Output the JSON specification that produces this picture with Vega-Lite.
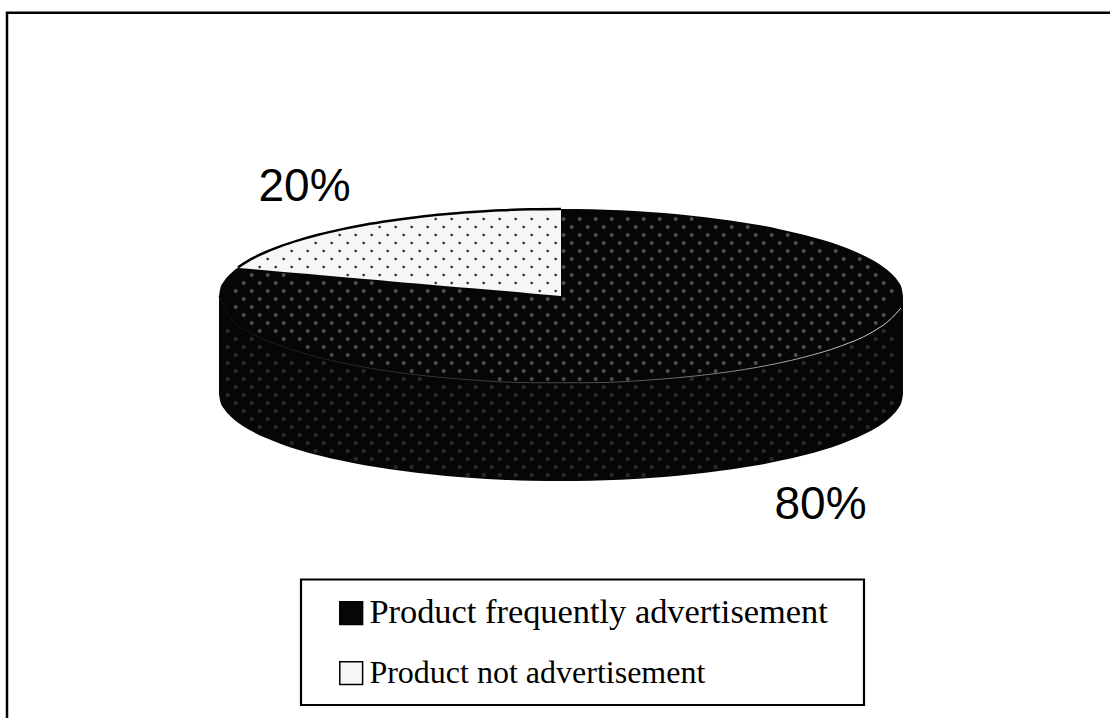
{
  "$schema": "https://vega.github.io/schema/vega-lite/v6.json",
  "width": 1110,
  "height": 718,
  "autosize": {"type": "fit", "contains": "padding"},
  "padding": 0,
  "background": "white",
  "view": {"stroke": null},
  "datasets": {
    "slices": [
      {"segment": "Product frequently advertisement", "share": 80, "label": "80%", "x": 774.5, "y": 518.5},
      {"segment": "Product not advertisement", "share": 20, "label": "20%", "x": 258.5, "y": 201}
    ],
    "body": [
      {"segment": "Product frequently advertisement", "x": 219, "y": 296, "y2": 394},
      {"segment": "Product frequently advertisement", "x": 220.3, "y": 288.4, "y2": 401.6},
      {"segment": "Product frequently advertisement", "x": 224.2, "y": 280.9, "y2": 409.1},
      {"segment": "Product frequently advertisement", "x": 230.7, "y": 273.5, "y2": 416.5},
      {"segment": "Product frequently advertisement", "x": 239.6, "y": 266.2, "y2": 423.8},
      {"segment": "Product frequently advertisement", "x": 251, "y": 259.2, "y2": 430.8},
      {"segment": "Product frequently advertisement", "x": 264.8, "y": 252.5, "y2": 437.5},
      {"segment": "Product frequently advertisement", "x": 280.8, "y": 246.1, "y2": 443.9},
      {"segment": "Product frequently advertisement", "x": 299, "y": 240.1, "y2": 449.9},
      {"segment": "Product frequently advertisement", "x": 319.2, "y": 234.5, "y2": 455.5},
      {"segment": "Product frequently advertisement", "x": 341.2, "y": 229.4, "y2": 460.6},
      {"segment": "Product frequently advertisement", "x": 364.8, "y": 224.7, "y2": 465.3},
      {"segment": "Product frequently advertisement", "x": 390, "y": 220.7, "y2": 469.3},
      {"segment": "Product frequently advertisement", "x": 416.5, "y": 217.2, "y2": 472.8},
      {"segment": "Product frequently advertisement", "x": 444, "y": 214.2, "y2": 475.8},
      {"segment": "Product frequently advertisement", "x": 472.5, "y": 212, "y2": 478},
      {"segment": "Product frequently advertisement", "x": 501.6, "y": 210.3, "y2": 479.7},
      {"segment": "Product frequently advertisement", "x": 531.2, "y": 209.3, "y2": 480.7},
      {"segment": "Product frequently advertisement", "x": 561, "y": 209, "y2": 481},
      {"segment": "Product frequently advertisement", "x": 590.8, "y": 209.3, "y2": 480.7},
      {"segment": "Product frequently advertisement", "x": 620.4, "y": 210.3, "y2": 479.7},
      {"segment": "Product frequently advertisement", "x": 649.5, "y": 212, "y2": 478},
      {"segment": "Product frequently advertisement", "x": 678, "y": 214.2, "y2": 475.8},
      {"segment": "Product frequently advertisement", "x": 705.5, "y": 217.2, "y2": 472.8},
      {"segment": "Product frequently advertisement", "x": 732, "y": 220.7, "y2": 469.3},
      {"segment": "Product frequently advertisement", "x": 757.2, "y": 224.7, "y2": 465.3},
      {"segment": "Product frequently advertisement", "x": 780.8, "y": 229.4, "y2": 460.6},
      {"segment": "Product frequently advertisement", "x": 802.8, "y": 234.5, "y2": 455.5},
      {"segment": "Product frequently advertisement", "x": 823, "y": 240.1, "y2": 449.9},
      {"segment": "Product frequently advertisement", "x": 841.2, "y": 246.1, "y2": 443.9},
      {"segment": "Product frequently advertisement", "x": 857.2, "y": 252.5, "y2": 437.5},
      {"segment": "Product frequently advertisement", "x": 871, "y": 259.2, "y2": 430.8},
      {"segment": "Product frequently advertisement", "x": 882.4, "y": 266.2, "y2": 423.8},
      {"segment": "Product frequently advertisement", "x": 891.3, "y": 273.5, "y2": 416.5},
      {"segment": "Product frequently advertisement", "x": 897.8, "y": 280.9, "y2": 409.1},
      {"segment": "Product frequently advertisement", "x": 901.7, "y": 288.4, "y2": 401.6},
      {"segment": "Product frequently advertisement", "x": 903, "y": 296, "y2": 394}
    ],
    "smallSlice": [
      {"segment": "Product not advertisement", "x": 238, "y": 267.4, "y2": 268},
      {"segment": "Product not advertisement", "x": 251, "y": 259.2, "y2": 269.1},
      {"segment": "Product not advertisement", "x": 264.8, "y": 252.5, "y2": 270.3},
      {"segment": "Product not advertisement", "x": 280.8, "y": 246.1, "y2": 271.7},
      {"segment": "Product not advertisement", "x": 299, "y": 240.1, "y2": 273.3},
      {"segment": "Product not advertisement", "x": 319.2, "y": 234.5, "y2": 275},
      {"segment": "Product not advertisement", "x": 341.2, "y": 229.4, "y2": 276.9},
      {"segment": "Product not advertisement", "x": 364.8, "y": 224.7, "y2": 279},
      {"segment": "Product not advertisement", "x": 390, "y": 220.7, "y2": 281.2},
      {"segment": "Product not advertisement", "x": 416.5, "y": 217.2, "y2": 283.5},
      {"segment": "Product not advertisement", "x": 444, "y": 214.2, "y2": 285.9},
      {"segment": "Product not advertisement", "x": 472.5, "y": 212, "y2": 288.3},
      {"segment": "Product not advertisement", "x": 501.6, "y": 210.3, "y2": 290.8},
      {"segment": "Product not advertisement", "x": 531.2, "y": 209.3, "y2": 293.4},
      {"segment": "Product not advertisement", "x": 561, "y": 209, "y2": 296}
    ],
    "rimEdge": [
      {"x": 219, "y": 296},
      {"x": 230.7, "y": 318.5},
      {"x": 251, "y": 332.8},
      {"x": 280.8, "y": 345.9},
      {"x": 319.2, "y": 357.5},
      {"x": 364.8, "y": 367.3},
      {"x": 416.5, "y": 374.8},
      {"x": 472.5, "y": 380},
      {"x": 531.2, "y": 382.7},
      {"x": 590.8, "y": 382.7},
      {"x": 649.5, "y": 380},
      {"x": 705.5, "y": 374.8},
      {"x": 757.2, "y": 367.3},
      {"x": 802.8, "y": 357.5},
      {"x": 841.2, "y": 345.9},
      {"x": 871, "y": 332.8},
      {"x": 891.3, "y": 318.5},
      {"x": 901, "y": 308}
    ],
    "lattice": [
      {
        "xs": [227.7, 243.7, 259.7, 275.7, 291.7, 307.7, 323.7, 339.7, 355.7, 371.7, 387.7, 403.7, 419.7, 435.7, 451.7, 467.7, 483.7, 499.7, 515.7, 531.7, 547.7, 563.7, 579.7, 595.7, 611.7, 627.7, 643.7, 659.7, 675.7, 691.7, 707.7, 723.7, 739.7, 755.7, 771.7, 787.7, 803.7, 819.7, 835.7, 851.7, 867.7, 883.7, 899.7],
        "ys": [219, 235, 251, 267, 283, 299, 315, 331, 347, 363, 379, 395, 411, 427, 443, 459, 475]
      },
      {
        "xs": [219.7, 235.7, 251.7, 267.7, 283.7, 299.7, 315.7, 331.7, 347.7, 363.7, 379.7, 395.7, 411.7, 427.7, 443.7, 459.7, 475.7, 491.7, 507.7, 523.7, 539.7, 555.7, 571.7, 587.7, 603.7, 619.7, 635.7, 651.7, 667.7, 683.7, 699.7, 715.7, 731.7, 747.7, 763.7, 779.7, 795.7, 811.7, 827.7, 843.7, 859.7, 875.7, 891.7],
        "ys": [211, 227, 243, 259, 275, 291, 307, 323, 339, 355, 371, 387, 403, 419, 435, 451, 467]
      }
    ]
  },
  "encoding": {
    "x": {"field": "x", "type": "quantitative", "axis": null, "scale": {"domain": [0, 1110], "nice": false, "zero": false}},
    "y": {"field": "y", "type": "quantitative", "axis": null, "stack": null, "scale": {"domain": [718, 0], "nice": false, "zero": false}}
  },
  "layer": [
    {
      "description": "Outer chart border; the right and bottom sides run past the canvas",
      "data": {"values": [{"x": 7, "y": 12.7, "x2": 1130, "y2": 740}]},
      "mark": {"type": "rect", "fill": null, "stroke": "#000000", "strokeWidth": 2.5, "clip": true},
      "encoding": {"x2": {"field": "x2"}, "y2": {"field": "y2"}}
    },
    {
      "description": "Legend box",
      "data": {"values": [{"x": 301, "y": 579.5, "x2": 864, "y2": 705}]},
      "mark": {"type": "rect", "fill": null, "stroke": "#000000", "strokeWidth": 2.2},
      "encoding": {"x2": {"field": "x2"}, "y2": {"field": "y2"}}
    },
    {
      "description": "Pie body: 80% slice with its side wall",
      "data": {"name": "body"},
      "mark": {"type": "area", "interpolate": "monotone"},
      "encoding": {
        "y2": {"field": "y2"},
        "color": {
          "field": "segment",
          "type": "nominal",
          "scale": {
            "domain": ["Product frequently advertisement", "Product not advertisement"],
            "range": ["#060606", "#f6f6f6"]
          },
          "legend": {
            "title": null,
            "orient": "none",
            "legendX": 334,
            "legendY": 596,
            "symbolType": "square",
            "symbolSize": 520,
            "symbolStrokeColor": "#000000",
            "symbolStrokeWidth": 1.5,
            "labelFont": "Liberation Serif",
            "labelFontSize": {"expr": "datum.value == 'Product not advertisement' ? 32 : 34.4"},
            "labelColor": "#000000",
            "labelLimit": 600,
            "labelOffset": 1,
            "rowPadding": 26,
            "padding": 0
          }
        }
      }
    },
    {
      "description": "20% slice on the top face",
      "data": {"name": "smallSlice"},
      "mark": {"type": "area", "interpolate": "monotone"},
      "encoding": {"y2": {"field": "y2"}, "color": {"field": "segment", "type": "nominal"}}
    },
    {
      "description": "Dot texture of the 20% slice",
      "data": {"name": "lattice"},
      "transform": [
        {"flatten": ["xs"], "as": ["x"]},
        {"flatten": ["ys"], "as": ["y"]},
        {"filter": "pow((datum.x-561)/342,2)+pow((datum.y-296)/87,2)<0.95 && datum.x<558 && (datum.y-296)<0.0867*(datum.x-561)-2"}
      ],
      "mark": {"type": "point", "shape": "circle", "filled": true, "size": 7, "color": "#2a2a2a", "opacity": 1}
    },
    {
      "description": "Dot texture of the 80% slice, top face",
      "data": {"name": "lattice"},
      "transform": [
        {"flatten": ["xs"], "as": ["x"]},
        {"flatten": ["ys"], "as": ["y"]},
        {"filter": "pow((datum.x-561)/342,2)+pow((datum.y-296)/87,2)<0.95 && !(datum.x<561 && (datum.y-296)<0.0867*(datum.x-561)+3)"}
      ],
      "mark": {"type": "point", "shape": "circle", "filled": true, "size": 16, "color": "#505050", "opacity": 1}
    },
    {
      "description": "Dot texture of the side wall, dimmer than the top face",
      "data": {"name": "lattice"},
      "transform": [
        {"flatten": ["xs"], "as": ["x"]},
        {"flatten": ["ys"], "as": ["y"]},
        {"filter": "pow((datum.x-561)/342,2)+pow((datum.y-296)/87,2)>1.05 && datum.y>296 && ((datum.y<394 && abs(datum.x-561)<336) || pow((datum.x-561)/342,2)+pow((datum.y-394)/87,2)<0.95)"}
      ],
      "mark": {"type": "point", "shape": "circle", "filled": true, "size": 22, "color": "#262626", "opacity": 1}
    },
    {
      "description": "Dark rim along the upper edge of the 20% slice",
      "data": {"name": "smallSlice"},
      "mark": {"type": "line", "interpolate": "monotone", "stroke": "#000000", "strokeWidth": 2.5},
      "encoding": {"x": {"field": "x", "type": "quantitative"}, "y": {"field": "y", "type": "quantitative"}}
    },
    {
      "description": "Highlight where the top face meets the side wall",
      "data": {"name": "rimEdge"},
      "mark": {
        "type": "line",
        "interpolate": "monotone",
        "strokeWidth": 1,
        "stroke": {
          "x1": 0, "y1": 0, "x2": 1, "y2": 0,
          "gradient": "linear",
          "stops": [
            {"offset": 0, "color": "#111111"},
            {"offset": 0.6, "color": "#555555"},
            {"offset": 1, "color": "#d8d8d8"}
          ]
        }
      },
      "encoding": {}
    },
    {
      "description": "Percentage labels",
      "data": {"name": "slices"},
      "mark": {"type": "text", "align": "left", "baseline": "alphabetic", "font": "Liberation Sans", "fontSize": 46, "color": "#000000"},
      "encoding": {"text": {"field": "label", "type": "nominal"}}
    }
  ]
}
